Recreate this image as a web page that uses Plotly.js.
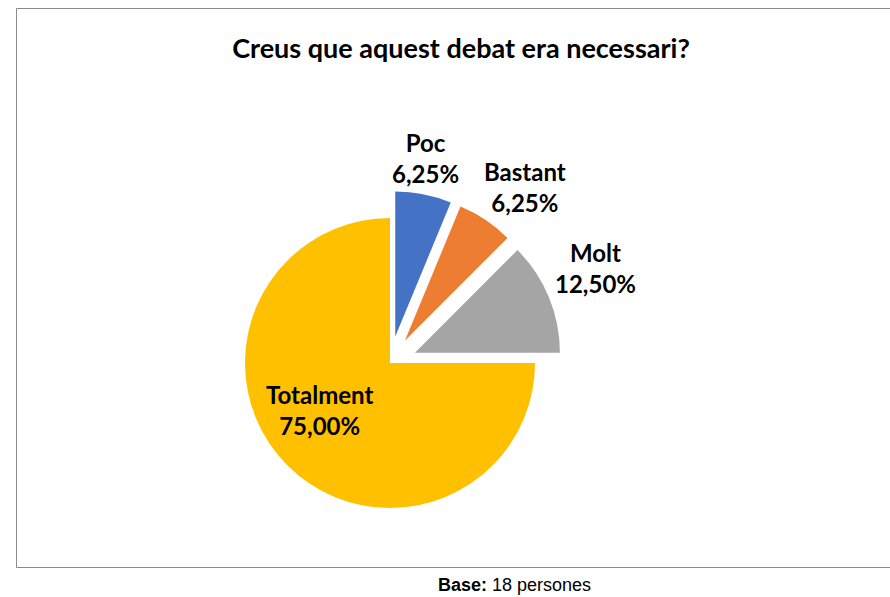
<!DOCTYPE html>
<html>
<head>
<meta charset="utf-8">
<script src="https://cdn.plot.ly/plotly-3.0.1.min.js"></script>
<style>html,body{margin:0;padding:0;background:#fff;}#chart{width:890px;height:597px;}</style>
</head>
<body>
<div id="chart"></div>
<script>
const labels = ["Poc", "Bastant", "Molt", "Totalment"];
const values = [6.25, 6.25, 12.5, 75];
const colors = ["#4472C4", "#ED7D31", "#A5A5A5", "#FFC000"];
const pulls = [0.186, 0.186, 0.186, 0];
const titleText = "Creus que aquest debat era necessari?";
const baseLabel = "Base:";
const baseValue = "18 persones";

// label anchor positions in pixels (layout only)
const labelPos = [[425.5, 158], [525, 187], [595, 268], [319.5, 410]];

const W = 890, H = 597;
const total = values.reduce((a, b) => a + b, 0);
const fmtPct = v => (v / total * 100).toFixed(2).replace(".", ",") + "%";
const labelFont = {family: "Lato, 'Noto Sans', sans-serif", size: 24, color: "#000000", weight: "bold"};

const trace = {
  type: "pie",
  labels: labels,
  values: values,
  sort: false,
  direction: "clockwise",
  rotation: 0,
  pull: pulls,
  marker: {colors: colors, line: {color: "#ffffff", width: 0}},
  textinfo: "none",
  textposition: "none",
  hoverinfo: "none",
  domain: {x: [0.2449, 0.6315], y: [0.1039, 0.6801]},
  automargin: false
};

const annotations = labels.map((lab, i) => ({
  text: "<b>" + lab + "<br>" + fmtPct(values[i]) + "</b>",
  xref: "paper", yref: "paper",
  x: labelPos[i][0] / W, y: 1 - labelPos[i][1] / H,
  xanchor: "center", yanchor: "middle",
  align: "center", showarrow: false,
  font: labelFont
}));
annotations.push({
  text: "<b>" + baseLabel + "</b> " + baseValue,
  xref: "paper", yref: "paper",
  x: 514.5 / W, y: 1 - 585 / H, xanchor: "center", yanchor: "middle",
  showarrow: false,
  font: {family: "'Liberation Sans', Arial, sans-serif", size: 18, color: "#000000"}
});

const layout = {
  width: W, height: H,
  margin: {l: 0, r: 0, t: 0, b: 0},
  paper_bgcolor: "#ffffff",
  showlegend: false,
  title: {
    text: "<b>" + titleText + "</b>",
    x: 461 / W, xanchor: "center",
    y: 1 - 49 / H, yanchor: "middle",
    font: {family: "Lato, 'Noto Sans', sans-serif", size: 27, color: "#000000"}
  },
  shapes: [{
    type: "rect", xref: "paper", yref: "paper",
    x0: 16.5 / W, x1: 1.01, y0: 1 - 567.5 / H, y1: 1 - 8.5 / H,
    line: {color: "#8c8c8c", width: 1}, fillcolor: "rgba(0,0,0,0)", layer: "below"
  }],
  annotations: annotations
};

Plotly.newPlot("chart", [trace], layout, {staticPlot: true, displayModeBar: false});
</script>
</body>
</html>
